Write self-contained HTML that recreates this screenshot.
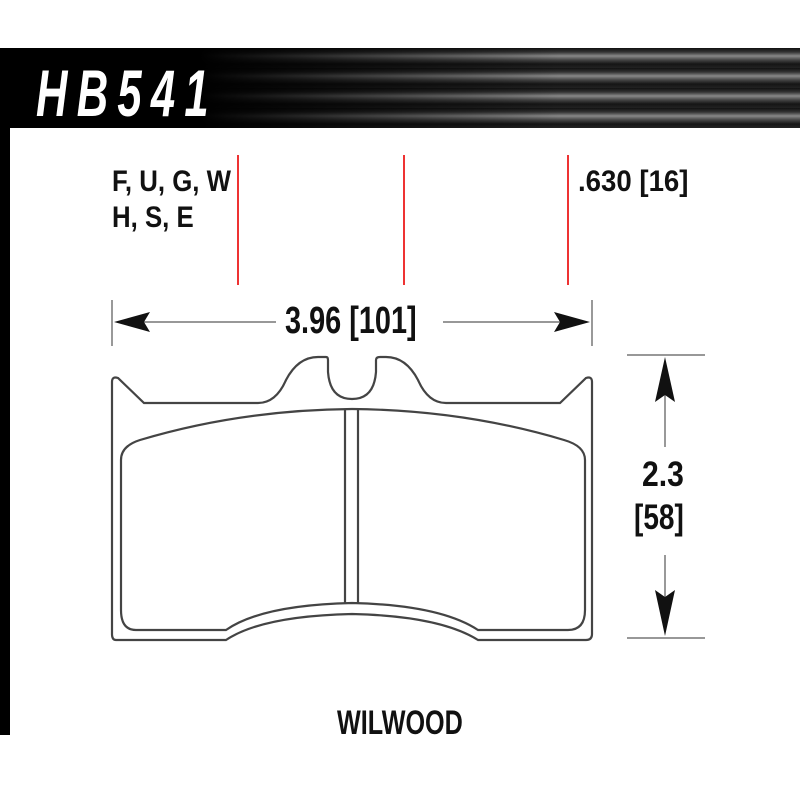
<!DOCTYPE html>
<html><head><meta charset="utf-8"><style>
html,body{margin:0;padding:0;background:#fff;}
#c{position:relative;width:800px;height:800px;overflow:hidden;background:#fff;font-family:"Liberation Sans",sans-serif;}
.hdr{position:absolute;left:0;top:48px;width:800px;height:80px;background:
linear-gradient(90deg,#000 0,#000 200px,rgba(0,0,0,0) 560px),
repeating-linear-gradient(180deg,#111 0,#333 4px,#888 8px,#444 12px,#151515 16px,#222 20px);}
.lbar{position:absolute;left:0;top:48px;width:10px;height:687px;background:#000;}
.t{position:absolute;white-space:nowrap;color:#111;font-weight:bold;transform-origin:0 0;line-height:1;}
</style></head><body><div id="c">
<div class="hdr"></div>
<div class="lbar"></div>
<div class="t" style="left:36px;top:60px;font-size:66px;color:#fff;font-style:italic;transform:scaleX(0.66);letter-spacing:14px;">HB541</div>
<div class="t" style="left:112px;top:167px;font-size:30px;transform:scaleX(0.86);">F, U, G, W</div>
<div class="t" style="left:112px;top:203px;font-size:30px;transform:scaleX(0.86);">H, S, E</div>
<div class="t" style="left:578px;top:167px;font-size:30px;transform:scaleX(0.92);">.630 [16]</div>
<div class="t" style="left:285px;top:302px;font-size:38px;transform:scaleX(0.76);">3.96 [101]</div>
<div class="t" style="left:642px;top:457px;font-size:35px;transform:scaleX(0.86);">2.3</div>
<div class="t" style="left:634px;top:500px;font-size:35px;transform:scaleX(0.8);">[58]</div>
<div class="t" style="left:337px;top:706px;font-size:34px;transform:scaleX(0.74);">WILWOOD</div>
<svg width="800" height="800" style="position:absolute;left:0;top:0">
<g stroke="#e33" stroke-width="2">
<line x1="238" y1="155" x2="238" y2="285"/><line x1="404" y1="155" x2="404" y2="285"/><line x1="568" y1="155" x2="568" y2="285"/>
</g>
<g stroke="#777" stroke-width="1.5" fill="none">
<line x1="112" y1="300" x2="112" y2="346"/><line x1="592" y1="300" x2="592" y2="346"/>
<line x1="128" y1="322" x2="276" y2="322"/><line x1="443" y1="322" x2="576" y2="322"/>
<line x1="627" y1="355" x2="705" y2="355"/><line x1="627" y1="638" x2="705" y2="638"/>
<line x1="665" y1="370" x2="665" y2="447"/><line x1="665" y1="555" x2="665" y2="625"/>
</g>
<g fill="#111">
<polygon points="114,322 150,312 144,322 150,332"/>
<polygon points="590,322 554,312 560,322 554,332"/>
<polygon points="665,357 655,402 665,395 675,402"/>
<polygon points="665,636 655,590 665,597 675,590"/>
</g>
<g stroke="#444" stroke-width="2.2" fill="none">
<path d="M116,640 Q112,640 112,634 L112,382 Q112,376 118,378 L144,403 L258,403 Q276,403 286,380 Q298,357 318,357 L326,357 Q328,357 328,360 L328,372 Q330,399 352,399 Q374,399 376,372 L376,360 Q376,357 380,357 L386,357 Q406,357 418,380 Q428,403 446,403 L560,403 L586,378 Q592,376 592,382 L592,634 Q592,640 586,640 L478,640 Q440,616 352,614 Q262,616 226,640 Z"/>
<path d="M136,630 Q121,630 121,610 L121,460 Q121,446 140,440 Q240,410 352,409 Q464,410 564,440 Q585,446 585,460 L585,610 Q585,630 568,630 L478,630 Q440,605 352,603 Q262,605 226,630 Z"/>
<line x1="345" y1="410" x2="345" y2="604"/><line x1="358" y1="410" x2="358" y2="604"/>
</g>
</svg>
</div></body></html>
